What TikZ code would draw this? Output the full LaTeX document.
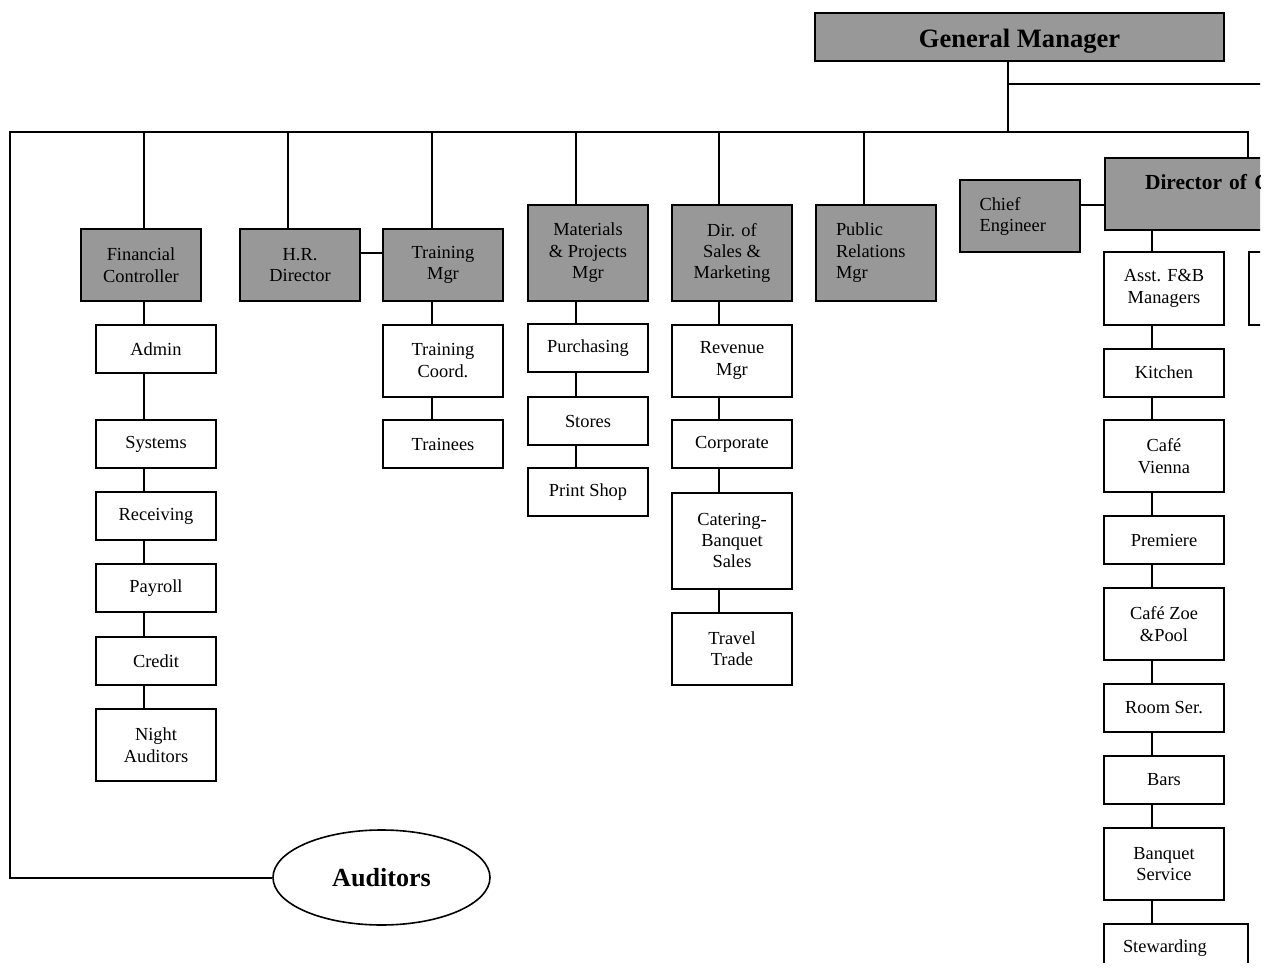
\documentclass[tikz,border=0pt]{standalone}
\usepackage{fontspec}
\setmainfont{Liberation Serif}
\usetikzlibrary{positioning,shapes.geometric}
\definecolor{boxgray}{RGB}{152,152,152}
\tikzset{
  post/.style={draw, line width=1.5pt, inner sep=0pt, minimum width=90pt, align=center},
  mgr/.style={post, fill=boxgray},
  unit/.style={post, fill=white},
  link/.style={line width=1.5pt}
}

\begin{document}
\begin{tikzpicture}[x=0.75pt, y=-0.75pt, every node/.style={font=\fontsize{13.8}{16.1}\selectfont}]
  \useasboundingbox (0,0) rectangle (1272,970);
  \clip (0,0) rectangle (1260,962);
  % top of the chart
  \node[mgr, minimum width=306.75pt, minimum height=36pt, text height=16.5pt, text depth=0pt, font=\fontsize{19.9}{23}\selectfont\bfseries] (gm) at (1019.5,37) {General Manager};
  \node[mgr, minimum height=54pt] (fc) at (141,265) {Financial\\Controller};
  \node[mgr, minimum height=54pt] (hr) at (300,265) {H.R.\\Director};
  \node[mgr, minimum height=54pt] (trm) at (443,265) {Training\\Mgr};
  \node[mgr, minimum height=72pt] (mat) at (588,253) {Materials\\\& Projects\\Mgr};
  \node[mgr, minimum height=72pt] (dsm) at (732,253) {Dir. of\\Sales \&\\Marketing};
  \node[mgr, minimum height=72pt, align=left, text width=60pt, inner xsep=15pt] (pr) at (876,253) {Public\\Relations\\Mgr};
  \node[mgr, minimum height=54pt, align=left, text width=60pt, inner xsep=15pt] (ce) at (1019.5,216.5) {Chief\\Engineer};
  \node[mgr, minimum height=54pt, anchor=north west, align=left, text width=200pt, inner xsep=30pt, font=\fontsize{16.1}{18.5}\selectfont\bfseries] (dir) at (1104,157) {Director of C\\~};
  \node[draw, ellipse, line width=1.2pt, minimum width=162.75pt, minimum height=71.25pt, inner sep=0pt, font=\fontsize{19.6}{23}\selectfont\bfseries] (aud) at (381.5,877.5) {Auditors};

  % departments
  \foreach \n/\y/\h/\t in {adm/349/36/Admin, sys/444/36/Systems, rcv/516/36/Receiving, pay/588/36/Payroll, crd/661/36/Credit, nau/745/54/{Night\\Auditors}}
    \node[unit, minimum height=\h pt] (\n) at (156,\y) {\t};
  \foreach \n/\y/\h/\t in {tco/360.5/54/{Training\\Coord.}, tre/444/36/Trainees}
    \node[unit, minimum height=\h pt] (\n) at (443,\y) {\t};
  \foreach \n/\y/\h/\t in {pur/348/36/Purchasing, sto/421/36/Stores, prs/492/36/{Print Shop}}
    \node[unit, minimum height=\h pt] (\n) at (588,\y) {\t};
  \foreach \n/\y/\h/\t in {rev/360.5/54/{Revenue\\Mgr}, cor/444/36/Corporate, cat/540.5/72/{Catering-\\Banquet\\Sales}, trv/648.5/54/{Travel\\Trade}}
    \node[unit, minimum height=\h pt] (\n) at (732,\y) {\t};
  \foreach \n/\y/\h/\t in {afb/288.5/54/{Asst. F\&B\\Managers}, kit/372.5/36/Kitchen, cvi/456/54/{Café\\Vienna}, pre/540/36/Premiere, czo/624/54/{Café Zoe\\\&Pool}, rms/708/36/{Room Ser.}, bar/780/36/Bars, bqs/864/54/{Banquet\\Service}}
    \node[unit, minimum height=\h pt] (\n) at (1164,\y) {\t};
  \node[unit, minimum height=36pt, align=left, text width=79.5pt, inner xsep=14.25pt] (stw) at (1176,948) {Stewarding};
  \node[unit, minimum height=54pt, anchor=west] (fbx) at (1248,288.5) {};

  % lines
  \coordinate (busL) at (10,132);
  \coordinate (busR) at (1248,132);
  \coordinate (gmx) at (1008,132);
  \coordinate (gmside) at (1262,84);
  \draw[link] (gmx |- gm.south) -- (gmx);
  \draw[link] (gmx |- gmside) -- (gmside);
  \draw[link] (aud.west) -| (busL) -- (busR) -- (busR |- dir.north);
  \draw[link] (hr.east |- 0,253) -- (trm.west |- 0,253);
  \draw[link] (ce.east |- 0,205) -- (dir.west |- 0,205);

  \coordinate (cfc) at (144,132);
  \coordinate (chr) at (288,132);
  \coordinate (ctr) at (432,132);
  \coordinate (cmat) at (576,132);
  \coordinate (csm) at (719,132);
  \coordinate (cpr) at (864,132);
  \coordinate (cdir) at (1152,157);
  \foreach \c/\n in {cfc/fc, chr/hr, ctr/trm, cmat/mat, csm/dsm, cpr/pr}
    \draw[link] (\c) -- (\c |- \n.north);

  \foreach \a/\b in {fc/adm, adm/sys, sys/rcv, rcv/pay, pay/crd, crd/nau}
    \draw[link] (cfc |- \a.south) -- (cfc |- \b.north);
  \foreach \a/\b in {trm/tco, tco/tre}
    \draw[link] (ctr |- \a.south) -- (ctr |- \b.north);
  \foreach \a/\b in {mat/pur, pur/sto, sto/prs}
    \draw[link] (cmat |- \a.south) -- (cmat |- \b.north);
  \foreach \a/\b in {dsm/rev, rev/cor, cor/cat, cat/trv}
    \draw[link] (csm |- \a.south) -- (csm |- \b.north);
  \foreach \a/\b in {dir/afb, afb/kit, kit/cvi, cvi/pre, pre/czo, czo/rms, rms/bar, bar/bqs, bqs/stw}
    \draw[link] (cdir |- \a.south) -- (cdir |- \b.north);
\end{tikzpicture}
\end{document}
